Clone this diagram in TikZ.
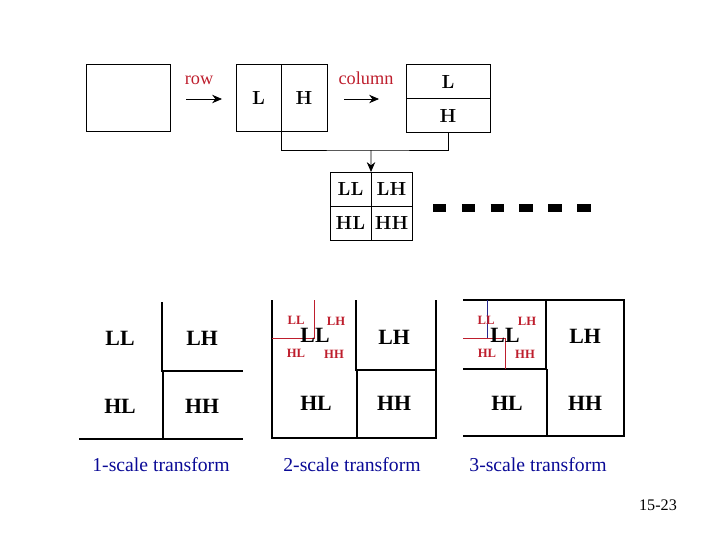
\documentclass[tikz,border=0pt]{standalone}
\usepackage{fontspec}
\newfontfamily\tnr{Liberation Serif}
\usepackage{tikz}
\usetikzlibrary{arrows.meta, positioning, calc}
\definecolor{capblue}{RGB}{10,10,150}
\definecolor{lblred}{RGB}{190,30,45}
\definecolor{lnblue}{RGB}{40,40,140}
\tikzset{
  cell/.style={rectangle, draw=black, line width=0.7pt, outer sep=0pt,
    inner sep=0pt, font=\fontsize{13.5}{14}\selectfont\bfseries},
  gcell/.style={rectangle, draw=black, line width=0.7pt, outer sep=0pt,
    inner sep=0pt, minimum width=1.025cm, minimum height=0.85cm,
    font=\fontsize{13.5}{14}\selectfont\bfseries},
  steplbl/.style={font=\tnr\fontsize{13}{14}\selectfont, text=lblred},
  biglbl/.style={font=\tnr\fontsize{15.5}{16}\selectfont\bfseries},
  sublbl/.style={font=\tnr\fontsize{9}{10}\selectfont\bfseries, text=lblred},
  caption/.style={font=\tnr\fontsize{14}{15}\selectfont, text=capblue},
  arrow/.style={-{Stealth[length=7pt, width=6pt]}, line width=0.6pt},
  line/.style={line width=0.9pt}
}
\begin{document}
\begin{tikzpicture}[x=0.025cm, y=-0.025cm]
  \useasboundingbox (0,0) rectangle (720,540);

  % Row and column transform
  \node[cell, minimum width=2.075cm, minimum height=1.675cm] (img) at (128.5,97.5) {};
  \node[cell, minimum width=1.125cm, minimum height=1.675cm] (rL) at (258.5,97.5) {L};
  \node[cell, minimum width=1.15cm, minimum height=1.675cm, right=0pt of rL] (rH) {H};
  \node[cell, minimum width=2.1cm, minimum height=0.85cm] (cL) at (448,81.5) {L};
  \node[cell, minimum width=2.1cm, minimum height=0.85cm, below=0pt of cL] (cH) {H};

  \coordinate (rowS) at (186,99);
  \coordinate (rowE) at (222,99);
  \coordinate (colS) at (344,99);
  \coordinate (colE) at (379,99);
  \draw[arrow] (rowS) -- (rowE);
  \draw[arrow] (colS) -- (colE);
  \node[steplbl] (rowlbl) at (199,80) {row};
  \node[steplbl] (collbl) at (366,78) {column};

  % 1-level grid
  \node[gcell] (gLL) at (350.5,189) {LL};
  \node[gcell, right=0pt of gLL] (gLH) {LH};
  \node[gcell, below=0pt of gLL] (gHL) {HL};
  \node[gcell, right=0pt of gHL] (gHH) {HH};

  \coordinate (mid) at (371,150);
  \draw[line width=0.7pt] (rL.south east) |- (mid) -| (cH.south);
  \draw[arrow] (mid) -- (gLL.north east);

  \draw[line width=6pt, dash pattern=on 9.5pt off 11pt] (433,208) -- (591,208);

  % 1-scale
  \draw[line] (162,302) -- (162,371) -- (243,371);
  \draw[line] (163,371) -- (163,439);
  \draw[line] (79,439) -- (243,439);
  \node[biglbl] (aLL) at (120,338) {LL};
  \node[biglbl] (aLH) at (202,338) {LH};
  \node[biglbl] (aHL) at (120,406) {HL};
  \node[biglbl] (aHH) at (202,406) {HH};

  % 2-scale
  \draw[line] (272,300) -- (272,438) -- (436,438) -- (436,300);
  \draw[line] (356,300) -- (356,370) -- (436,370);
  \draw[line] (357,370) -- (357,438);
  \draw[lblred, line width=0.6pt] (314,300) -- (314,338) -- (272,338);
  \node[sublbl] (bLLs) at (296,320) {LL};
  \node[sublbl] (bLHs) at (336,321) {LH};
  \node[sublbl] (bHLs) at (296,353) {HL};
  \node[sublbl] (bHHs) at (334,354) {HH};
  \node[biglbl] (bLL) at (315,335) {LL};
  \node[biglbl] (bLH) at (394,337) {LH};
  \node[biglbl] (bHL) at (316,403) {HL};
  \node[biglbl] (bHH) at (394,403) {HH};

  % 3-scale
  \draw[line] (463,300) -- (624,300) -- (624,436) -- (463,436);
  \draw[line] (546,300) -- (546,369) -- (463,369);
  \draw[line] (547,369) -- (547,436);
  \draw[lnblue, line width=0.6pt] (487,300) -- (487,338);
  \draw[lblred, line width=0.6pt] (463,338) -- (505,338) -- (505,369);
  \node[sublbl] (cLLs) at (486,320) {LL};
  \node[sublbl] (cLHs) at (527,321) {LH};
  \node[sublbl] (cHLs) at (487,353) {HL};
  \node[sublbl] (cHHs) at (525,354) {HH};
  \node[biglbl] (c3LL) at (505,335) {LL};
  \node[biglbl] (c3LH) at (585,336) {LH};
  \node[biglbl] (c3HL) at (507,403) {HL};
  \node[biglbl] (c3HH) at (585,403) {HH};

  % Captions
  \node[caption] (cap1) at (161,465) {1-scale transform};
  \node[caption] (cap2) at (352,465) {2-scale transform};
  \node[caption] (cap3) at (538,465) {3-scale transform};
  \node[font=\tnr\fontsize{11.5}{12}\selectfont] (pg) at (658,505) {15-23};
\end{tikzpicture}
\end{document}
